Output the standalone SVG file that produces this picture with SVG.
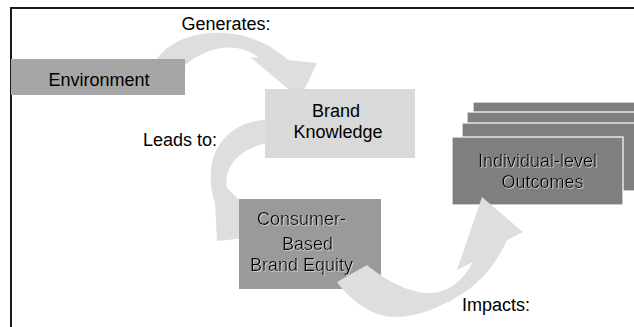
<svg xmlns="http://www.w3.org/2000/svg" width="634" height="327" viewBox="0 0 634 327">
<defs>
<style>
.arrow{fill:#dedede;stroke:none}
.box{stroke:none}
.stack{fill:#7f7f7f;stroke:#ffffff;stroke-width:1.2}
.t{font-family:"Liberation Sans",Arial,Helvetica,sans-serif;font-size:18px;fill:#000}
.mid{text-anchor:middle}
.sh{filter:url(#shadow)}
</style>
<filter id="shadow" x="-10%" y="-20%" width="120%" height="150%">
<feDropShadow dx="0.8" dy="0.8" stdDeviation="0" flood-color="#ffffff" flood-opacity="0.6"/>
</filter>
</defs>
<rect width="634" height="327" fill="#ffffff"/>
<path d="M11,327 V8 H634" fill="none" stroke="#1a1a1a" stroke-width="2"/>

<g id="connectors">
<path id="arrow-generates" class="arrow" d="M157,59 C178,28 245,20 288,60 L317,63 L300,99 L250,57 L259,58 C240,42 210,44 184,66 Z"/>
<path id="arrow-leads" class="arrow" d="M266,120 C240,120 214,138 211,170 C210,185 212,195 215,202 L217,241 L275,235 L227,188 C224,172 232,152 266,143 Z"/>
</g>

<g id="node-environment">
<rect class="box" x="11" y="59" width="174" height="36" fill="#a6a6a6"/>
<text class="t mid" x="99" y="86">Environment</text>
</g>

<g id="node-brand-knowledge">
<rect class="box" x="265" y="89" width="150" height="69" fill="#d9d9d9"/>
<text class="t mid" x="336" y="117">Brand</text>
<text class="t mid" x="338" y="138">Knowledge</text>
</g>

<g id="node-cbbe">
<rect class="box" x="239" y="199" width="142" height="90" fill="#9a9a9a"/>
<text class="t sh" x="257" y="225">Consumer-</text>
<text class="t sh" x="282" y="250">Based</text>
<text class="t sh" x="250" y="271">Brand Equity</text>
</g>

<g id="node-outcomes">
<rect class="stack" x="473" y="102" width="200" height="68"/>
<rect class="stack" x="467" y="112" width="200" height="68"/>
<rect class="stack" x="462" y="123" width="200" height="68"/>
<rect class="stack" x="452" y="137" width="171" height="68" stroke-width="1.5"/>
<text class="t mid sh" x="537.5" y="167">Individual-level</text>
<text class="t mid sh" x="542.5" y="188">Outcomes</text>
</g>

<g id="connectors-top">
<path id="arrow-impacts" class="arrow" d="M337,282 L367,265 C385,280 410,294 432,293 C448,292 462,282 473,262 L457,270 L482,197 L523,232 L507,240 C500,256 486,278 465,292 C445,305 420,317 395,317 C372,317 350,300 337,282 Z"/>
</g>

<g id="labels">
<text class="t mid" x="226" y="30">Generates:</text>
<text class="t mid" x="180" y="146">Leads to:</text>
<text class="t" x="462" y="311">Impacts:</text>
</g>
</svg>
